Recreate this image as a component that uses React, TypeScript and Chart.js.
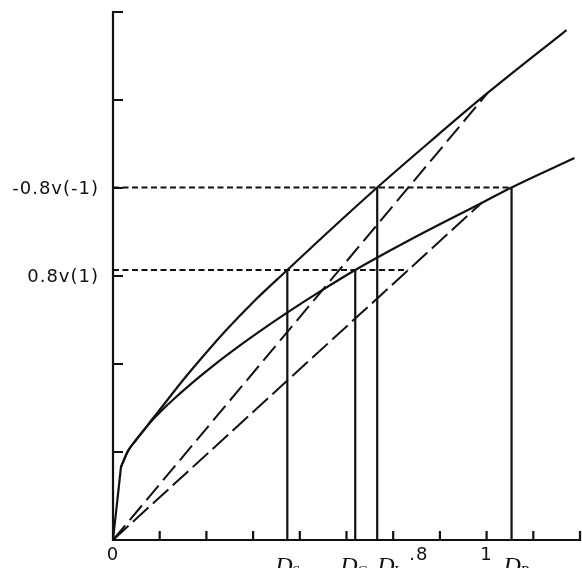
import React, { useEffect, useRef } from "react";
import { Chart, registerables } from "chart.js";

Chart.register(...registerables);

// ---- data (x: 1 = tick "1", y: one unit per y tick) ----
const UPPER_X = [0, 0.0214, 0.0401, 0.0615, 0.0829, 0.1043, 0.131, 0.1791, 0.2326, 0.2995, 0.3797, 0.4666, 0.5816, 0.7072, 0.8476, 1.0027, 1.2139];
const UPPER_Y = [0, 0.83, 1.011, 1.136, 1.25, 1.369, 1.511, 1.773, 2.045, 2.369, 2.722, 3.068, 3.523, 4.006, 4.523, 5.08, 5.795];
const LOWER_X = [0, 0.0214, 0.0401, 0.0615, 0.0829, 0.1043, 0.131, 0.1578, 0.2112, 0.2594, 0.3128, 0.3877, 0.4733, 0.5535, 0.6484, 0.7941, 0.9866, 1.0668, 1.2353];
const LOWER_Y = [0, 0.83, 1.011, 1.136, 1.25, 1.358, 1.475, 1.583, 1.783, 1.951, 2.126, 2.356, 2.603, 2.822, 3.068, 3.409, 3.83, 4.006, 4.341];

const RAY_END_X = [1.0027, 0.9866];
const RAY_END_Y = [5.08, 3.83];

const LEVEL_VALUES = [3.068, 4.006];
const LEVEL_END_X = [0.79, 1.0668];
const LEVEL_LABELS = ["0.8v(1)", "-0.8v(-1)"];
const LEVEL_LABEL_AT = [3, 4];

const D_NAMES = ["S", "C", "L", "R"];
const D_X = [0.4666, 0.6484, 0.7072, 1.0668];
const D_LEVEL = [0, 0, 1, 1];

const X_TICKS = [0.125, 0.25, 0.375, 0.5, 0.625, 0.75, 0.875, 1, 1.125, 1.25];
const Y_TICKS = [1, 2, 3, 4, 5, 6];
const X_LABEL_VALUES = [0, 0.8, 1];
const X_LABEL_TEXTS = ["0", ".8", "1"];

const X_MAX = 1.25;
const Y_MAX = 6;

// ---- style ----
const INK = "#111";
const D_LABEL_SHIFT = [-12, -15, 0, -8];
const X_LABEL_SHIFT = [0, 7, 0];

const pts = (xs: number[], ys: number[]) => xs.map((x, i) => ({ x, y: ys[i] }));

const artPlugin = {
  id: "art",
  afterDatasetsDraw(chart: any) {
    const { ctx, scales } = chart;
    const xs = scales.x;
    const ys = scales.y;
    const x0 = xs.getPixelForValue(0);
    const y0 = ys.getPixelForValue(0);
    ctx.save();
    ctx.strokeStyle = INK;
    ctx.fillStyle = INK;
    ctx.lineWidth = 2.2;
    ctx.setLineDash([]);
    ctx.lineCap = "square";
    ctx.beginPath();
    ctx.moveTo(x0, ys.getPixelForValue(Y_MAX));
    ctx.lineTo(x0, y0);
    ctx.lineTo(xs.getPixelForValue(X_MAX), y0);
    ctx.stroke();
    ctx.lineCap = "butt";
    ctx.beginPath();
    X_TICKS.forEach((v) => {
      const p = xs.getPixelForValue(v);
      ctx.moveTo(p, y0);
      ctx.lineTo(p, y0 - 9);
    });
    Y_TICKS.forEach((v) => {
      const p = ys.getPixelForValue(v);
      ctx.moveTo(x0, p);
      ctx.lineTo(x0 + 10, p);
    });
    ctx.stroke();

    // y labels
    ctx.font = "18px 'DejaVu Sans'";
    (ctx as any).letterSpacing = "1px";
    ctx.textAlign = "right";
    ctx.textBaseline = "middle";
    LEVEL_LABELS.forEach((t, i) => {
      ctx.fillText(t, x0 - 14, ys.getPixelForValue(LEVEL_LABEL_AT[i]) + 1);
    });
    // x numeric labels
    ctx.textAlign = "center";
    X_LABEL_TEXTS.forEach((t, i) => {
      ctx.fillText(t, xs.getPixelForValue(X_LABEL_VALUES[i]) + X_LABEL_SHIFT[i], y0 + 15);
    });
    (ctx as any).letterSpacing = "0px";
    // D labels
    ctx.textAlign = "left";
    ctx.textBaseline = "alphabetic";
    D_NAMES.forEach((n, i) => {
      const left = xs.getPixelForValue(D_X[i]) + D_LABEL_SHIFT[i];
      ctx.font = "italic 24px 'Liberation Serif'";
      ctx.fillText("D", left, y0 + 33);
      const w = ctx.measureText("D").width;
      ctx.font = "italic 15px 'Liberation Serif'";
      ctx.fillText(n, left + w - 1, y0 + 36);
    });
    ctx.restore();
  },
};

export default function App() {
  const ref = useRef<HTMLCanvasElement | null>(null);
  useEffect(() => {
    if (!ref.current) return;
    const line = (data: any[], dash: number[] = [], width = 2.2, mono = false) => ({
      data,
      showLine: true,
      borderColor: INK,
      backgroundColor: INK,
      borderWidth: width,
      borderDash: dash,
      pointRadius: 0,
      fill: false,
      clip: false,
      tension: 0,
      cubicInterpolationMode: mono ? "monotone" : "default",
      borderJoinStyle: "round",
    });
    const upper = pts(UPPER_X, UPPER_Y);
    const lower = pts(LOWER_X, LOWER_Y);
    const datasets: any[] = [
      line(upper.slice(0, 2)),
      line(upper.slice(1), [], 2.2, true),
      line(lower.slice(1), [], 2.2, true),
      line([{ x: 0, y: 0 }, { x: RAY_END_X[0], y: RAY_END_Y[0] }], [19, 7], 2),
      line([{ x: 0, y: 0 }, { x: RAY_END_X[1], y: RAY_END_Y[1] }], [21, 6], 2),
      ...LEVEL_VALUES.map((v, i) => line([{ x: 0, y: v }, { x: LEVEL_END_X[i], y: v }], [6, 3.5], 2)),
      ...D_X.map((d, i) => line([{ x: d, y: 0 }, { x: d, y: LEVEL_VALUES[D_LEVEL[i]] }], [], 2.2)),
    ];
    const chart = new Chart(ref.current, {
      type: "scatter",
      data: { datasets },
      options: {
        animation: false,
        responsive: false,
        events: [],
        layout: { padding: { left: 113, right: 2, top: 12, bottom: 28 } },
        plugins: { legend: { display: false }, tooltip: { enabled: false } },
        scales: {
          x: { type: "linear", min: 0, max: X_MAX, display: false },
          y: { type: "linear", min: 0, max: Y_MAX, display: false },
        },
      },
      plugins: [artPlugin],
    } as any);
    return () => chart.destroy();
  }, []);
  return (
    <div style={{ position: "fixed", left: 0, top: 0, width: 582, height: 568, background: "#fff" }}>
      <canvas ref={ref} width={582} height={568} style={{ display: "block" }} />
    </div>
  );
}
